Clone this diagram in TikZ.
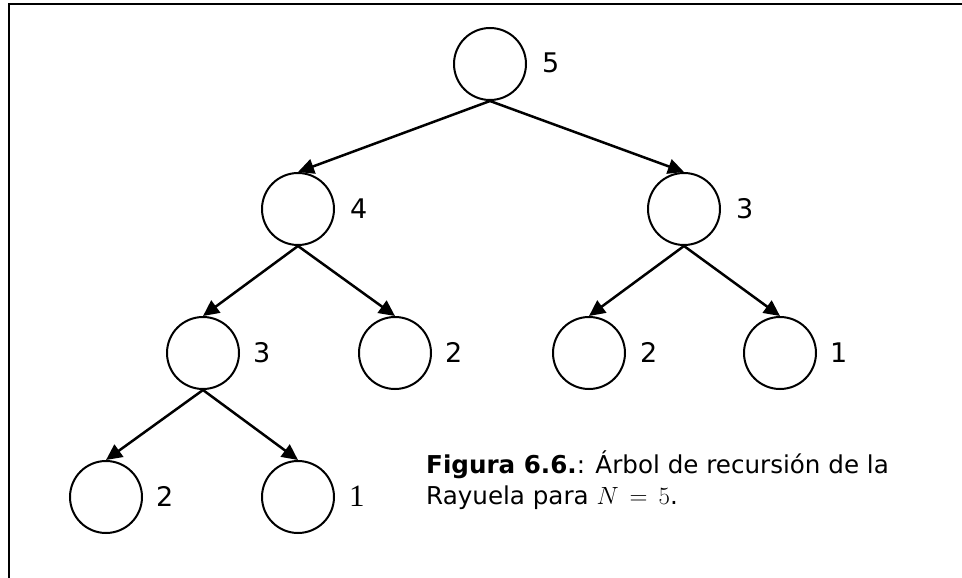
\documentclass[tikz,border=0pt]{standalone}
\usepackage{fontspec}
\setmainfont{DejaVu Sans}
\newfontfamily\serifdigit{Liberation Serif}
\usetikzlibrary{arrows.meta}
\begin{document}
\begin{tikzpicture}[x=1pt,y=-1pt,
  call/.style={circle,draw,line width=2pt,minimum size=72pt,inner sep=0pt},
  val/.style={anchor=base west,inner sep=0pt,font=\fontsize{27}{27}\selectfont},
  link/.style={line width=2.5pt,-{Triangle[length=16pt,width=15pt]}},
  caption/.style={anchor=base west,inner sep=0pt,font=\fontsize{24.6}{24.6}\selectfont}]
\useasboundingbox (0,0) rectangle (962,578);
% frame (top and left edges)
\draw[line width=2.5pt] (962,4) -- (9,4) -- (9,578);
% recursion tree
\node[call] (n5)  at (490,64)  {};
\node[call] (n4)  at (298,209) {};
\node[call] (n3r) at (684,209) {};
\node[call] (n3l) at (203,353) {};
\node[call] (n2l) at (395,353) {};
\node[call] (n2r) at (589,353) {};
\node[call] (n1r) at (780,353) {};
\node[call] (n2b) at (106,497) {};
\node[call] (n1b) at (298,497) {};
% values
\node[val] (v5)  at (542,73)  {5};
\node[val] (v4)  at (350,218) {4};
\node[val] (v3r) at (736,218) {3};
\node[val] (v3l) at (253,362) {3};
\node[val] (v2l) at (445,362) {2};
\node[val] (v2r) at (640,362) {2};
\node[val] (v1r) at (830,362) {1};
\node[val] (v2b) at (156,506) {2};
\node[anchor=base west,inner sep=0pt,font=\serifdigit\fontsize{31}{31}\selectfont] (v1b) at (349,506) {1};
% calls
\draw[link] (n5.south) -- (n4.north);
\draw[link] (n5.south) -- (n3r.north);
\draw[link] (n4.south) -- (n3l.north);
\draw[link] (n4.south) -- (n2l.north);
\draw[link] (n3r.south) -- (n2r.north);
\draw[link] (n3r.south) -- (n1r.north);
\draw[link] (n3l.south) -- (n2b.north);
\draw[link] (n3l.south) -- (n1b.north);
% caption
\node[caption] (cap1) at (426,473) {\textbf{Figura 6.6.}: Árbol de recursión de la};
\node[caption] (cap2) at (426,504) {Rayuela para $N\,=\,5$.};
\end{tikzpicture}
\end{document}
